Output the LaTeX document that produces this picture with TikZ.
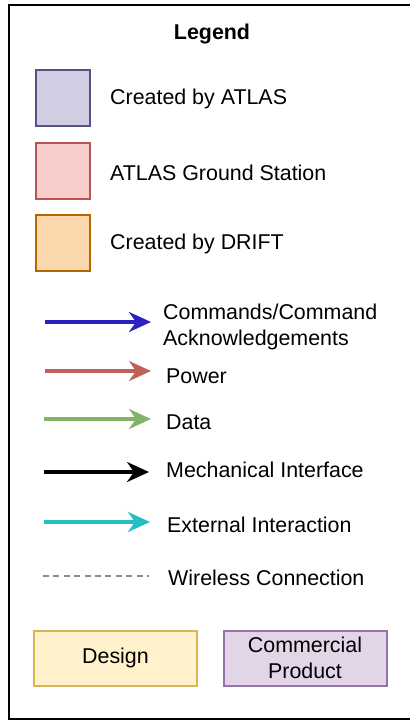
\documentclass[tikz,border=0pt]{standalone}
\usepackage{fontspec}
\setmainfont{Liberation Sans}
\usetikzlibrary{arrows.meta}
\definecolor{atlasfill}{HTML}{D0CEE2}
\definecolor{atlasdraw}{HTML}{56517E}
\definecolor{gsfill}{HTML}{F8CECC}
\definecolor{gsdraw}{HTML}{B85450}
\definecolor{driftfill}{HTML}{FAD7AC}
\definecolor{driftdraw}{HTML}{B46504}
\definecolor{desfill}{HTML}{FFF2CC}
\definecolor{desdraw}{HTML}{D6B656}
\definecolor{comfill}{HTML}{E1D5E7}
\definecolor{comdraw}{HTML}{9673A6}
\definecolor{cmdblue}{HTML}{2A20C4}
\definecolor{pwrred}{HTML}{C0605A}
\definecolor{datagreen}{HTML}{82B366}
\definecolor{extcyan}{HTML}{22C0C4}
\definecolor{wlgray}{HTML}{8A8A8A}
\begin{document}
\begin{tikzpicture}[x=1pt,y=-1pt,
  every node/.style={font=\fontsize{21.4}{26}\selectfont, inner sep=0pt},
  swatch/.style={draw=#1draw, fill=#1fill, line width=2pt, minimum width=54pt, minimum height=56pt},
  label/.style={anchor=west, align=left},
  legarrow/.style={line width=3.3pt, draw=#1, -{Stealth[length=22pt,width=20pt,inset=7pt]}},
  kindbox/.style={draw=#1draw, fill=#1fill, line width=2pt, minimum width=163pt, minimum height=55pt, align=center}]
\useasboundingbox (0,0) rectangle (410,721);
\draw[line width=2pt] (9,5) rectangle (418,719);
\node[font=\fontsize{21.4}{26}\selectfont\bfseries] (title) at (212,34) {Legend};
% swatches
\node[swatch=atlas] (s1) at (63,98) {};
\node[label] (t1) at (110,99) {Created by ATLAS};
\node[swatch=gs] (s2) at (63,171) {};
\node[label] (t2) at (110,173) {ATLAS Ground Station};
\node[swatch=drift] (s3) at (63,243) {};
\node[label] (t3) at (110,244) {Created by DRIFT};
% arrows
\coordinate (a1s) at (45,322); \coordinate (a1e) at (151,322);
\draw[legarrow=cmdblue] (a1s) -- (a1e);
\node[label] (l1) at (163,327) {Commands/Command\\Acknowledgements};
\coordinate (a2s) at (45,371); \coordinate (a2e) at (151,371);
\draw[legarrow=pwrred] (a2s) -- (a2e);
\node[label] (l2) at (166,376) {Power};
\coordinate (a3s) at (44,419); \coordinate (a3e) at (151,419);
\draw[legarrow=datagreen] (a3s) -- (a3e);
\node[label] (l3) at (166,422) {Data};
\coordinate (a4s) at (44,472); \coordinate (a4e) at (149,472);
\draw[legarrow=black] (a4s) -- (a4e);
\node[label] (l4) at (166,470) {Mechanical Interface};
\coordinate (a5s) at (44,522); \coordinate (a5e) at (150,522);
\draw[legarrow=extcyan] (a5s) -- (a5e);
\node[label] (l5) at (167,525) {External Interaction};
\coordinate (a6s) at (43,576); \coordinate (a6e) at (149,576);
\draw[wlgray, line width=2.5pt, dash pattern=on 6pt off 4.4pt] (a6s) -- (a6e);
\node[label] (l6) at (168,578) {Wireless Connection};
% kind boxes
\node[kindbox=des] (design) at (115.5,658) {Design};
\node[kindbox=com] (comm) at (305,658) {Commercial\\Product};
\end{tikzpicture}
\end{document}
